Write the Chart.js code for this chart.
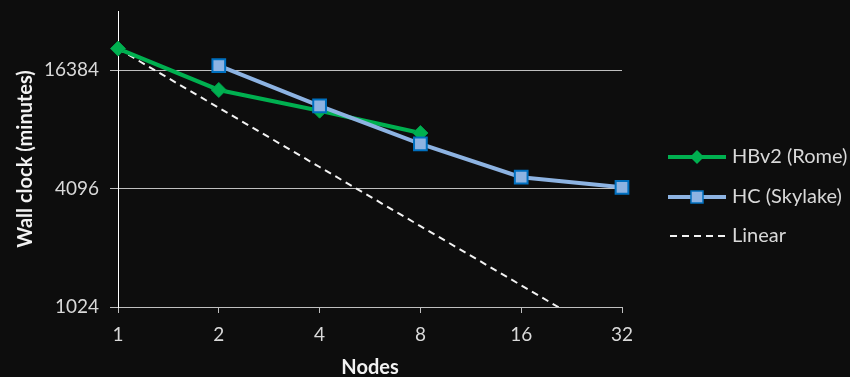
<!DOCTYPE html>
<html>
<head>
<meta charset="utf-8">
<script src="https://cdn.jsdelivr.net/npm/chart.js@4.4.0/dist/chart.umd.min.js"></script>
<style>
  html, body { margin: 0; padding: 0; background: #0d0d0d; }
  #wrap { width: 850px; height: 377px; }
</style>
</head>
<body>
<div id="wrap"><canvas id="myChart" width="850" height="377"></canvas></div>
<script>
// values
var nodes = ['1', '2', '4', '8', '16', '32'];
var hbv2 = [21100, 13000, 10200, 7850, null, null];
var hc = [null, 17300, 10800, 6920, 4680, 4160];
var linear = [21100, 10550, 5275, 2640, 1320, 660];
var yTicks = [1024, 4096, 16384];

var green = '#00b050';
var blueLine = '#8db3e2';
var blueEdge = '#0070c0';
var textCol = '#d9d9d9';
var fontName = 'Lato';

// legend drawn by hand: line + marker, like the original
var sideLegend = {
	id: 'sideLegend',
	afterDraw: function(chart) {
		var ctx = chart.ctx;
		var x0 = chart.chartArea.right + 46;
		var items = [
			{ label: 'HBv2 (Rome)', y: 157, kind: 'diamond' },
			{ label: 'HC (Skylake)', y: 197, kind: 'square' },
			{ label: 'Linear', y: 236, kind: 'dash' }
		];
		ctx.save();
		items.forEach(function(it) {
			ctx.setLineDash([]);
			if (it.kind === 'diamond') {
				ctx.strokeStyle = green;
				ctx.lineWidth = 4;
				ctx.beginPath(); ctx.moveTo(x0, it.y); ctx.lineTo(x0 + 58, it.y); ctx.stroke();
				ctx.fillStyle = green;
				ctx.beginPath();
				ctx.moveTo(x0 + 29, it.y - 7); ctx.lineTo(x0 + 36, it.y);
				ctx.lineTo(x0 + 29, it.y + 7); ctx.lineTo(x0 + 22, it.y);
				ctx.closePath(); ctx.fill();
			} else if (it.kind === 'square') {
				ctx.strokeStyle = blueLine;
				ctx.lineWidth = 4;
				ctx.beginPath(); ctx.moveTo(x0, it.y); ctx.lineTo(x0 + 58, it.y); ctx.stroke();
				ctx.fillStyle = blueLine;
				ctx.fillRect(x0 + 23, it.y - 6, 12, 12);
				ctx.strokeStyle = blueEdge;
				ctx.lineWidth = 1.5;
				ctx.strokeRect(x0 + 23, it.y - 6, 12, 12);
			} else {
				ctx.strokeStyle = '#f2f2f2';
				ctx.lineWidth = 2;
				ctx.setLineDash([7, 5]);
				ctx.beginPath(); ctx.moveTo(x0 + 2, it.y); ctx.lineTo(x0 + 58, it.y); ctx.stroke();
			}
			ctx.setLineDash([]);
			ctx.fillStyle = textCol;
			ctx.font = '20px ' + fontName;
			ctx.textBaseline = 'middle';
			ctx.textAlign = 'left';
			ctx.fillText(it.label, x0 + 64, it.y);
		});
		ctx.restore();
	}
};

var bgPlugin = {
	id: 'bg',
	beforeDraw: function(chart) {
		var ctx = chart.ctx;
		ctx.save();
		ctx.fillStyle = '#0d0d0d';
		ctx.fillRect(0, 0, chart.width, chart.height);
		ctx.restore();
	}
};

var ctx = document.getElementById('myChart').getContext('2d');
var myChart = new Chart(ctx, {
	type: 'line',
	data: {
		labels: nodes,
		datasets: [{
			label: 'HBv2 (Rome)',
			data: hbv2,
			borderColor: green,
			backgroundColor: green,
			borderWidth: 4,
			pointStyle: 'rectRot',
			pointRadius: 7.5,
			pointBorderWidth: 1,
			pointBorderColor: '#00a04a',
			pointBackgroundColor: green,
			order: 1
		}, {
			label: 'HC (Skylake)',
			data: hc,
			borderColor: blueLine,
			backgroundColor: blueLine,
			borderWidth: 4,
			pointStyle: 'rect',
			pointRadius: 9,
			pointBorderWidth: 2,
			pointBorderColor: blueEdge,
			pointBackgroundColor: blueLine,
			order: 0
		}, {
			label: 'Linear',
			data: linear,
			borderColor: '#f2f2f2',
			borderWidth: 2,
			borderDash: [7, 5],
			pointRadius: 0,
			order: 2
		}]
	},
	options: {
		responsive: false,
		animation: false,
		devicePixelRatio: 1,
		layout: { padding: { top: 6, right: 228, left: 0, bottom: 0 } },
		plugins: {
			legend: { display: false },
			tooltip: { enabled: false }
		},
		scales: {
			x: {
				type: 'category',
				offset: false,
				grid: { drawOnChartArea: false, drawTicks: true, tickLength: 6, color: '#bfbfbf', lineWidth: 1 },
				border: { color: '#bfbfbf', width: 1 },
				ticks: { color: textCol, font: { family: fontName, size: 19 }, padding: 10, maxRotation: 0 },
				title: { display: true, text: 'Nodes', color: '#f2f2f2', font: { family: fontName, size: 20, weight: 'bold', lineHeight: 1 }, padding: { top: 0, bottom: -1 } },
				afterFit: function(scale) { scale.height = 70; }
			},
			y: {
				type: 'logarithmic',
				min: 1024,
				max: 32768,
				afterBuildTicks: function(scale) {
					scale.ticks = yTicks.map(function(v) { return { value: v }; });
				},
				grid: { color: '#bfbfbf', lineWidth: 1, tickLength: 8 },
				border: { color: '#ffffff', width: 1 },
				ticks: {
					color: textCol,
					font: { family: fontName, size: 19 },
					padding: 11,
					callback: function(v) { return String(v); }
				},
				title: { display: true, text: 'Wall clock (minutes)', color: '#f2f2f2', font: { family: fontName, size: 20, weight: 'bold', lineHeight: 1 }, padding: { top: 16, bottom: 0 } },
				afterFit: function(scale) {
					scale.width = 118;
					scale.paddingTop = 0;
					scale.paddingBottom = 0;
				}
			}
		}
	},
	plugins: [bgPlugin, sideLegend]
});
</script>
</body>
</html>
